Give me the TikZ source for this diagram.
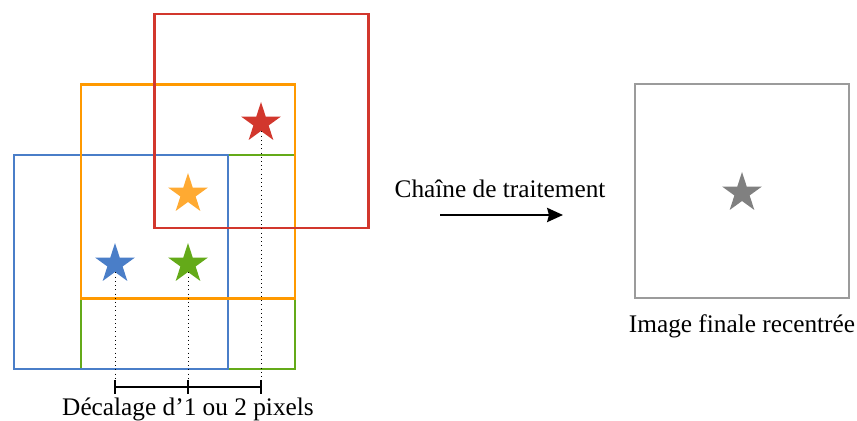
\documentclass[tikz,border=0pt]{standalone}
\usepackage{fontspec}
\setmainfont{Liberation Serif}
\usepackage{xcolor}
\usetikzlibrary{shapes.geometric, arrows.meta, positioning, calc}

\definecolor{frameblue}{RGB}{74,126,200}
\definecolor{framegreen}{RGB}{100,170,25}
\definecolor{frameorange}{RGB}{255,153,0}
\definecolor{framered}{RGB}{210,55,45}
\definecolor{framegray}{RGB}{155,155,155}
\definecolor{starorange}{RGB}{255,170,50}
\definecolor{stargray}{RGB}{128,128,128}

\begin{document}
\begin{tikzpicture}[x=0.02cm, y=-0.02cm,
  frame/.style={rectangle, draw, line width=1.4pt, minimum size=4.28cm, inner sep=0pt},
  starmark/.style={star, star points=5, star point ratio=2.618,
                   minimum size=0.84cm, inner sep=0pt, draw=none},
  lbl/.style={font=\fontsize{14.4}{17}\selectfont},
  guide/.style={dotted, thin},
  bar/.style={line width=1.5pt},
  arr/.style={-{Stealth[length=9pt, width=8pt, inset=1pt]}, line width=1.4pt}
]
\useasboundingbox (0,0) rectangle (857,421);
% shifted frames
\node[frame, draw=framegreen] (fg) at (188,262) {};
\node[frame, draw=frameblue] (fb) at (121,262) {};
\node[frame, draw=frameorange] (fo) at (188,191.5) {};
\node[frame, draw=framered] (fr) at (261.5,121) {};
\node[starmark, fill=frameblue] (sb) at (115,264) {};
\node[starmark, fill=framegreen] (sg) at (188,264) {};
\node[starmark, fill=starorange] (so) at (188,194) {};
\node[starmark, fill=framered] (sr) at (261,123) {};
% offset scale
\coordinate (t1) at (115,387);
\coordinate (t2) at (188,387);
\coordinate (t3) at (261,387);
\draw[guide] (sb.south) -- (t1);
\draw[guide] (sg.south) -- (t2);
\draw[guide] (sr.south) -- (t3);
\draw[bar] (t1) -- (t3);
\foreach \t in {t1,t2,t3}{
  \draw[bar] ($(\t)+(0,-7)$) -- ($(\t)+(0,7)$);
}
\node[lbl] (shift) at (188,409) {Décalage d’1 ou 2 pixels};
% processing
\coordinate (pa) at (440,215);
\coordinate (pb) at (563,215);
\draw[arr] (pa) -- (pb);
\node[lbl] (chain) at (500,189) {Chaîne de traitement};
% result
\node[frame, draw=framegray] (fres) at (742,191) {};
\node[starmark, fill=stargray] (sres) at (742,193) {};
\node[lbl] (res) at (742,326) {Image finale recentrée};
\end{tikzpicture}
\end{document}
